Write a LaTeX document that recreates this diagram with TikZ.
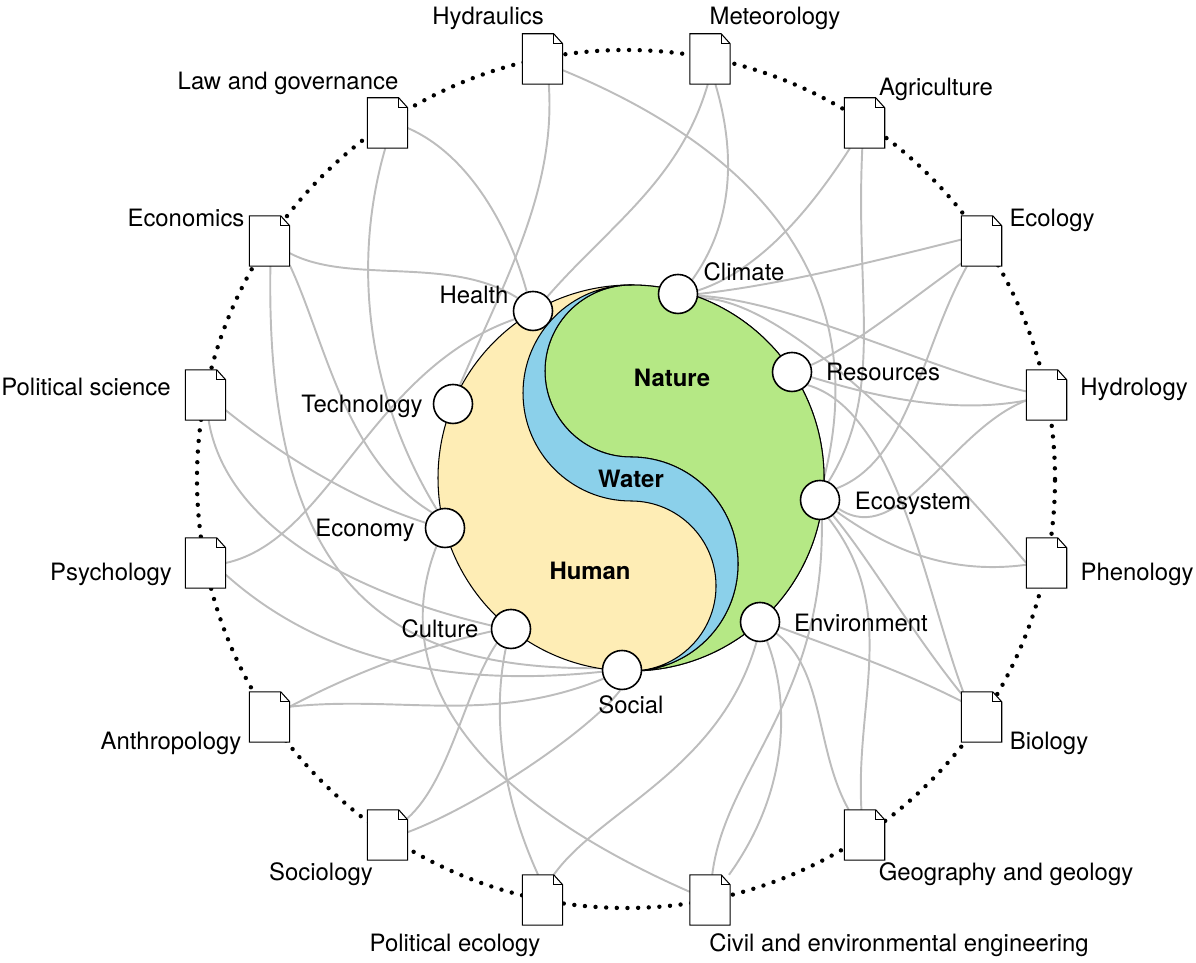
\documentclass[tikz,border=0pt]{standalone}
\usepackage{fontspec}
\setmainfont{TeX Gyre Heros}
\usetikzlibrary{backgrounds}
\definecolor{humancol}{HTML}{FEEDB5}
\definecolor{watercol}{HTML}{8BD0EA}
\definecolor{naturecol}{HTML}{B5E885}
\definecolor{linkcol}{HTML}{BDBDBD}
\tikzset{
  txt/.style={font=\fontsize{6.8}{8}\selectfont, inner sep=0pt, yshift=-0.02cm},
  bigtxt/.style={font=\fontsize{6.8}{8}\selectfont\bfseries, inner sep=0pt},
  doc/.style={minimum width=0.39cm, minimum height=0.49cm, inner sep=0pt},
  hub/.style={circle, draw, fill=white, line width=0.45pt, minimum size=0.39cm, inner sep=0pt},
  link/.style={draw=linkcol, line width=0.55pt},
  ring/.style={line width=1.25pt, line cap=round, dash pattern=on 0pt off 3.03pt},
  shape edge/.style={line width=0.3pt}
}
\begin{document}
\begin{tikzpicture}
    \useasboundingbox (0,0) rectangle (11.96,9.62);
    % documents
    \foreach \n/\x/\y in {hydraulics/5.425/9.03, meteorology/7.10/9.03, agriculture/8.645/8.39, ecology/9.815/7.21,
        hydrology/10.465/5.67, phenology/10.465/3.99, biology/9.815/2.45, geography/8.645/1.27,
        civil/7.10/0.62, polecology/5.425/0.62, sociology/3.875/1.27, anthropology/2.695/2.45,
        psychology/2.055/3.99, polscience/2.055/5.67, economics/2.695/7.21, law/3.875/8.39}
    {
        \node[doc] (\n) at (\x,\y) {};
        \filldraw[fill=white, line width=0.3pt] (\n.north west) -- ([xshift=-0.09cm]\n.north east)
            -- ([yshift=-0.1cm]\n.north east) -- (\n.south east) -- (\n.south west) -- cycle;
        \draw[line width=0.3pt] ([xshift=-0.09cm]\n.north east) |- ([yshift=-0.1cm]\n.north east);
    }
    % hubs on the circle
    \foreach \n/\x/\y in {climate/6.78/6.68, resources/7.92/5.90, ecosystem/8.20/4.62, environment/7.60/3.40,
        social/6.22/2.92, culture/5.11/3.33, economy/4.45/4.34, technology/4.53/5.58, health/5.33/6.51}
    \node[hub] (\n) at (\x,\y) {};
    % labels
    \foreach \n/\x/\y/\t in {hydraulics/4.88/9.46/Hydraulics, meteorology/7.75/9.46/Meteorology,
        law/2.88/8.81/Law and governance, agriculture/9.36/8.75/Agriculture, economics/1.86/7.46/Economics,
        ecology/10.52/7.44/Ecology, polscience/0.86/5.77/Political science, hydrology/11.34/5.75/Hydrology,
        psychology/1.11/3.90/Psychology, phenology/11.37/3.90/Phenology, anthropology/1.71/2.21/Anthropology,
        biology/10.49/2.21/Biology, sociology/3.21/0.90/Sociology, geography/10.06/0.90/Geography and geology,
        polecology/4.55/0.19/Political ecology, civil/8.99/0.19/Civil and environmental engineering,
        climate/7.44/6.92/Climate, resources/8.83/5.92/Resources, ecosystem/9.13/4.61/Ecosystem,
        environment/8.61/3.41/Environment, social/6.31/2.59/Social, culture/4.40/3.35/Culture,
        economy/3.65/4.34/Economy, technology/3.62/5.58/Technology, health/4.74/6.69/Health}
    \node[txt] (\n-label) at (\x,\y) {\t};
    \begin{pgfonlayer}{background}
        \draw[ring] (6.26,4.83) circle (4.29);
        % links
        \draw[link] (hydraulics.-76) .. controls (5.56,7.72) and (5.05,6.82) .. (technology.70);
        \draw[link] (law.-14) .. controls (4.70,8.07) and (5.10,7.32) .. (health.108);
        \draw[link] (meteorology.-95) .. controls (6.80,7.82) and (6.10,7.37) .. (health.45);
        \draw[link] (economics.-31) .. controls (3.50,6.77) and (4.50,7.07) .. (health.140);
        \draw[link] (psychology.0) .. controls (3.30,4.22) and (3.70,5.92) .. (health.204);
        \draw[link] (law.-95) .. controls (3.50,6.92) and (3.70,5.62) .. (economy.114);
        \draw[link] (economics.-50) .. controls (3.25,6.22) and (3.45,5.02) .. (economy.130);
        \draw[link] (polscience.-37) .. controls (3.00,4.92) and (3.70,4.57) .. (economy.165);
        \draw[link] (economy.-115) .. controls (3.85,2.82) and (4.80,1.62) .. (civil.158);
        \draw[link] (polscience.-83) .. controls (2.25,4.42) and (3.40,3.72) .. (culture.170);
        \draw[link] (anthropology.27) .. controls (3.40,2.82) and (4.10,3.12) .. (culture.187);
        \draw[link] (sociology.40) .. controls (4.50,1.82) and (4.65,2.72) .. (culture.-135);
        \draw[link] (polecology.100) .. controls (4.95,1.82) and (4.95,2.62) .. (culture.-105);
        \draw[link] (economics.-88) .. controls (2.65,3.62) and (4.00,2.92) .. (social.175);
        \draw[link] (psychology.-30) .. controls (3.10,3.12) and (4.30,2.72) .. (social.185);
        \draw[link] (anthropology.27) .. controls (4.00,2.67) and (4.90,2.37) .. (social.205);
        \draw[link] (sociology.8) .. controls (4.80,1.57) and (5.90,2.32) .. (social.-95);
        \draw[link] (polecology.66) .. controls (6.00,1.52) and (7.20,1.92) .. (environment.-100);
        \draw[link] (civil.53) .. controls (7.90,1.72) and (7.90,2.62) .. (environment.-70);
        \draw[link] (geography.122) .. controls (8.15,2.12) and (8.25,2.92) .. (environment.-35);
        \draw[link] (biology.142) .. controls (9.00,2.92) and (8.40,3.12) .. (environment.-15);
        \draw[link] (hydraulics.-29) .. controls (7.80,8.02) and (8.70,6.62) .. (ecosystem.80);
        \draw[link] (agriculture.-95) .. controls (8.55,6.62) and (8.85,5.72) .. (ecosystem.65);
        \draw[link] (ecology.-120) .. controls (9.20,6.12) and (9.10,5.02) .. (ecosystem.35);
        \draw[link] (hydrology.195) .. controls (9.50,5.32) and (9.00,4.12) .. (ecosystem.-25);
        \draw[link] (phenology.185) .. controls (9.50,3.87) and (8.90,4.12) .. (ecosystem.-35);
        \draw[link] (biology.131) .. controls (9.10,3.32) and (8.70,4.02) .. (ecosystem.-50);
        \draw[link] (geography.97) .. controls (8.55,2.62) and (9.00,3.52) .. (ecosystem.-65);
        \draw[link] (civil.85) .. controls (7.25,1.92) and (8.25,2.62) .. (ecosystem.-85);
        \draw[link] (meteorology.-78) .. controls (7.35,8.12) and (7.35,7.42) .. (climate.45);
        \draw[link] (agriculture.-120) .. controls (8.10,7.52) and (7.60,6.92) .. (climate.10);
        \draw[link] (ecology.176) .. controls (8.80,7.02) and (7.80,6.77) .. (climate.0);
        \draw[link] (hydrology.170) .. controls (9.30,5.92) and (7.90,6.62) .. (climate.-5);
        \draw[link] (phenology.180) .. controls (9.30,5.12) and (7.83,6.67) .. (climate.-12);
        \draw[link] (ecology.-132) .. controls (9.10,6.62) and (8.55,6.17) .. (resources.20);
        \draw[link] (hydrology.195) .. controls (9.50,5.47) and (8.70,5.67) .. (resources.-15);
        \draw[link] (biology.126) .. controls (9.25,3.72) and (8.97,5.51) .. (resources.-40);
        % the circle
        \filldraw[fill=humancol, shape edge] (6.31,4.84) circle (1.93);
        \filldraw[fill=naturecol, shape edge] (6.31,6.77) arc[start angle=90, end angle=-90, radius=1.93]
            arc[start angle=-90, end angle=90, radius=1.07] arc[start angle=-90, end angle=-270, radius=0.86] -- cycle;
        \filldraw[fill=watercol, shape edge] (6.31,6.77) arc[start angle=90, end angle=270, radius=1.08]
            arc[start angle=90, end angle=-90, radius=0.85] arc[start angle=-90, end angle=90, radius=1.07]
            arc[start angle=-90, end angle=-270, radius=0.86] -- cycle;
    \end{pgfonlayer}
    \node[bigtxt] (nature) at (6.72,5.84) {Nature};
    \node[bigtxt] (water) at (6.31,4.83) {Water};
    \node[bigtxt] (human) at (5.90,3.91) {Human};
\end{tikzpicture}
\end{document}
